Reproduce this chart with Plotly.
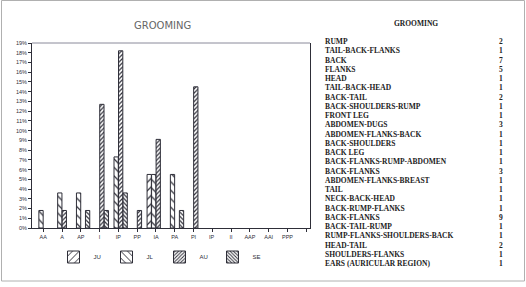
import plotly.graph_objects as go

# ---------------- data ----------------
categories = ["AA", "A", "AP", "I", "IP", "PP", "IA", "PA", "PI", "IP ", "II", "AAP", "AAI", "PPP"]
series_names = ["JU", "JL", "AU", "SE"]
ju = [0, 0, 0, 0, 0, 0, 5.5, 0, 0, 0, 0, 0, 0, 0]
jl = [1.8, 3.6, 3.6, 0, 7.3, 0, 5.5, 5.5, 0, 0, 0, 0, 0, 0]
au = [0, 1.8, 0, 12.7, 18.2, 1.8, 9.1, 0, 14.5, 0, 0, 0, 0, 0]
se = [0, 0, 1.8, 1.8, 3.6, 0, 0, 1.8, 0, 0, 0, 0, 0, 0]
y_ticks = list(range(0, 20))

table_title = "GROOMING"
table_names = [
    "RUMP", "TAIL-BACK-FLANKS", "BACK", "FLANKS", "HEAD", "TAIL-BACK-HEAD",
    "BACK-TAIL", "BACK-SHOULDERS-RUMP", "FRONT LEG", "ABDOMEN-DUGS",
    "ABDOMEN-FLANKS-BACK", "BACK-SHOULDERS", "BACK LEG",
    "BACK-FLANKS-RUMP-ABDOMEN", "BACK-FLANKS", "ABDOMEN-FLANKS-BREAST", "TAIL",
    "NECK-BACK-HEAD", "BACK-RUMP-FLANKS", "BACK-FLANKS", "BACK-TAIL-RUMP",
    "RUMP-FLANKS-SHOULDERS-BACK", "HEAD-TAIL", "SHOULDERS-FLANKS",
    "EARS (AURICULAR REGION)",
]
table_counts = [2, 1, 7, 5, 1, 1, 2, 1, 1, 3, 1, 1, 1, 1, 3, 1, 1, 1, 1, 9, 1, 1, 2, 1, 1]

# ---------------- layout constants (pixels) ----------------
W, H = 526, 287
PL, PR, PT, PB = 32, 310, 43, 228
INK = "#2e2e38"


def px_x(px):
    return (px - PL) / (PR - PL)


def px_y(py):
    return (PB - py) / (PB - PT)


styles = {
    "JU": dict(shape="/", size=6, solidity=0.2),
    "JL": dict(shape="\\", size=6, solidity=0.2),
    "AU": dict(shape="/", size=3, solidity=0.4),
    "SE": dict(shape="\\", size=3, solidity=0.4),
}
legend_ids = ["legend", "legend2", "legend3", "legend4"]
legend_px = [53.5, 106.5, 159.5, 212.5]

xpos = list(range(len(categories)))
fig = go.Figure()
for name, vals, lid in zip(series_names, [ju, jl, au, se], legend_ids):
    st = styles[name]
    fig.add_trace(go.Bar(
        x=xpos, y=[v if v else None for v in vals], name=name, legend=lid,
        marker=dict(color="white", line=dict(color=INK, width=1),
                    pattern=dict(shape=st["shape"], size=st["size"], solidity=st["solidity"],
                                 fgcolor=INK, bgcolor="white", fillmode="replace")),
    ))

annotations = [
    dict(text="GROOMING", x=px_x(162), y=px_y(25), xref="paper", yref="paper",
         showarrow=False, xanchor="center", yanchor="middle",
         font=dict(family="DejaVu Sans", size=10, color="#666")),
    dict(text="<b>%s</b>" % table_title, x=px_x(416), y=px_y(23), xref="paper", yref="paper",
         showarrow=False, xanchor="center", yanchor="middle",
         font=dict(family="Liberation Serif", size=7.5, color="#222")),
]
for i, (nm, ct) in enumerate(zip(table_names, table_counts)):
    py = 41.7 + 9.25 * i
    annotations.append(dict(text="<b>%s</b>" % nm, x=px_x(322.5), y=px_y(py), xref="paper", yref="paper",
                            showarrow=False, xanchor="left", yanchor="middle",
                            font=dict(family="Liberation Serif", size=7.5, color="#222")))
    annotations.append(dict(text="<b>%d</b>" % ct, x=px_x(505), y=px_y(py), xref="paper", yref="paper",
                            showarrow=False, xanchor="right", yanchor="middle",
                            font=dict(family="Liberation Serif", size=7.5, color="#222")))

shapes = [
    dict(type="line", xref="paper", yref="paper", x0=0, x1=1, y0=1, y1=1,
         line=dict(color="#8a8a9a", width=1)),
    dict(type="rect", xref="paper", yref="paper", x0=px_x(1.5), x1=px_x(524.5),
         y0=px_y(281), y1=px_y(0.5), line=dict(color="#b0b0b0", width=1)),
]

legend_common = dict(orientation="h", yanchor="middle", xanchor="left",
                     font=dict(family="Liberation Sans", size=6, color=INK),
                     bgcolor="rgba(0,0,0,0)", borderwidth=0)
legends = {}
for lid, lx in zip(legend_ids, legend_px):
    legends[lid] = dict(legend_common, x=px_x(lx), y=px_y(257))

fig.update_layout(
    width=W, height=H, autosize=False,
    margin=dict(l=PL, r=W - PR, t=PT, b=H - PB, pad=0),
    paper_bgcolor="white", plot_bgcolor="white",
    barmode="group", bargap=0.04, bargroupgap=0.05,
    showlegend=True,
    annotations=annotations,
    shapes=shapes,
    font=dict(family="Liberation Sans", color=INK),
    **legends,
)
fig.update_xaxes(
    range=[-0.6, 14.2], tickmode="array",
    tickvals=list(range(len(categories) + 1)), ticktext=categories + [""],
    ticks="outside", ticklen=3, tickcolor=INK, tickwidth=1,
    showline=True, linecolor=INK, linewidth=1, showgrid=False, zeroline=False,
    tickfont=dict(family="Liberation Sans", size=5.5, color=INK),
)
fig.update_yaxes(
    range=[0, 19], tickmode="array", tickvals=y_ticks,
    ticktext=["%d%%" % v for v in y_ticks],
    ticks="outside", ticklen=3, tickcolor=INK, tickwidth=1,
    showline=True, linecolor=INK, linewidth=1, mirror=True,
    showgrid=False, zeroline=False,
    tickfont=dict(family="Liberation Sans", size=5.5, color=INK),
)

fig.write_html("out.html")
